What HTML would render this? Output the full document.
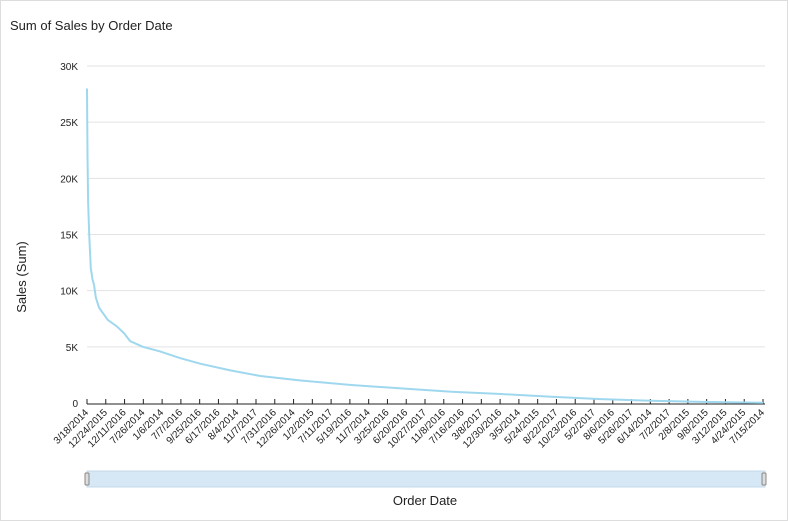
<!DOCTYPE html>
<html><head><meta charset="utf-8"><style>
body{margin:0;background:#fff;font-family:"Liberation Sans","DejaVu Sans",sans-serif;}
#card{position:absolute;left:0;top:0;width:786px;height:519px;border:1px solid #ddd;}
</style></head><body>
<div id="card"></div>
<svg id="chart" width="788" height="521" style="position:absolute;left:0;top:0">
<text x="10" y="30" font-size="13" fill="#222">Sum of Sales by Order Date</text>
<text transform="translate(26,277) rotate(-90)" text-anchor="middle" font-size="13" fill="#222">Sales (Sum)</text>
<text x="425" y="505" text-anchor="middle" font-size="13" fill="#222">Order Date</text>
<rect x="87" y="471" width="678" height="16" fill="#d6e8f5" stroke="#c5d9e8"/>
<rect x="85" y="473" width="4" height="12" rx="1" fill="#ddd" stroke="#888"/>
<rect x="762" y="473" width="4" height="12" rx="1" fill="#ddd" stroke="#888"/>
<g id="grid"></g><g id="xaxis"></g><g id="series"></g>
</svg>
<script>
const yTicks=[0,5000,10000,15000,20000,25000,30000];
const yTickLabels=["0","5K","10K","15K","20K","25K","30K"];
const xLabels=["3/18/2014","12/24/2015","12/11/2016","7/26/2014","1/6/2014","7/7/2016","9/25/2016","6/17/2016","8/4/2014","11/7/2017","7/31/2016","12/26/2014","1/2/2015","7/11/2017","5/19/2016","11/7/2014","3/25/2016","6/20/2016","10/27/2017","11/8/2016","7/16/2016","3/8/2017","12/30/2016","3/5/2014","5/24/2015","8/22/2017","10/23/2016","5/2/2017","8/6/2016","5/26/2017","6/14/2014","7/2/2017","2/8/2015","9/8/2015","3/12/2015","4/24/2015","7/15/2014"];
const totalDates=1237;
const ranks=[0,1,2,4,7,10,13,16,22,29,38,55,68,79,102,133,170,207,262,317,391,483,574,666,757,849,940,1031,1123,1236];
const sales=[28000,22000,18000,15000,12000,11000,10500,9400,8500,8000,7400,6800,6200,5500,5000,4600,4000,3500,2900,2400,2000,1600,1300,1000,800,550,350,200,100,20];
const X0=87,X1=763,Y0=403,Y1=66,NS="http://www.w3.org/2000/svg";
const xs=r=>X0+r/(totalDates-1)*(X1-X0);
const ys=v=>Y0-v/30000*(Y0-Y1);
const grid=document.getElementById('grid'),xa=document.getElementById('xaxis'),se=document.getElementById('series');
yTicks.forEach((t,i)=>{
 if(i>0){const l=document.createElementNS(NS,'line');
 l.setAttribute('x1',X0);l.setAttribute('x2',X1+2);l.setAttribute('y1',ys(t));l.setAttribute('y2',ys(t));l.setAttribute('stroke','#e3e3e3');
 
 
 grid.appendChild(l);}
 const tx=document.createElementNS(NS,'text');
 tx.setAttribute('x',78);tx.setAttribute('y',ys(t)+4);tx.setAttribute('text-anchor','end');tx.setAttribute('font-size','10');tx.setAttribute('fill','#222');
 tx.textContent=yTickLabels[i];
 
 
 grid.appendChild(tx);
});
const ax=document.createElementNS(NS,'line');
ax.setAttribute('x1',X0);ax.setAttribute('x2',X1+2);ax.setAttribute('y1',Y0+1);ax.setAttribute('y2',Y0+1);ax.setAttribute('stroke','#222');


xa.appendChild(ax);
const step=(X1-X0)/(xLabels.length-1);
xLabels.forEach((lb,i)=>{
 const x=X0+i*step;
 const t=document.createElementNS(NS,'line');
 t.setAttribute('x1',x);t.setAttribute('x2',x);t.setAttribute('y1',Y0+1);t.setAttribute('y2',Y0-4);t.setAttribute('stroke','#222');
 
 
 xa.appendChild(t);
 const tx=document.createElementNS(NS,'text');
 tx.setAttribute('transform',`translate(${x+2},${Y0+10}) rotate(-45)`);tx.setAttribute('text-anchor','end');tx.setAttribute('font-size','10');tx.setAttribute('fill','#222');
 tx.textContent=lb;
 
 
 xa.appendChild(tx);
});
const p=document.createElementNS(NS,'path');
p.setAttribute('d',ranks.map((r,i)=>(i?'L':'M')+xs(r).toFixed(1)+','+ys(sales[i]).toFixed(1)).join(''));
p.setAttribute('fill','none');p.setAttribute('stroke','#9fd8ee');p.setAttribute('stroke-width','2');


se.appendChild(p);
</script>
</body></html>
